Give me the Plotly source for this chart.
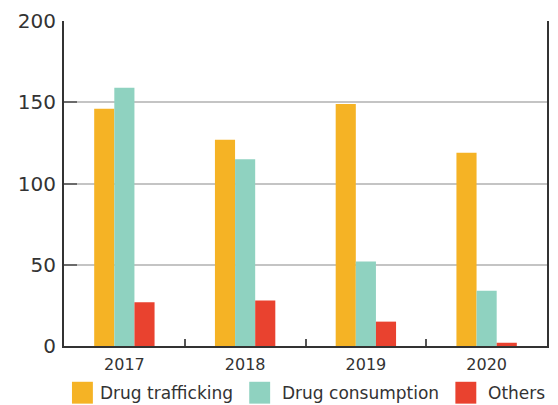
import plotly.graph_objects as go

# Cases by year and category
years = ["2017", "2018", "2019", "2020"]
trafficking = [146, 127, 149, 119]
consumption = [159, 115, 52, 34]
others = [27, 28, 15, 2]

series_names = ["Drug trafficking", "Drug consumption", "Others"]
series_colors = ["#F5B325", "#8FD2C0", "#E9422F"]

W, H = 558, 405
L, R, T, B = 64, 9, 19, 59
PW, PH = W - L - R, H - T - B

FONT = "DejaVu Sans, Arial, sans-serif"

fig = go.Figure()
for name, vals, col in zip(series_names, [trafficking, consumption, others], series_colors):
    fig.add_trace(go.Bar(x=years, y=vals, name=name, marker=dict(color=col, line=dict(width=0)),
                         showlegend=False))


def px_x(px):
    return (px - L) / PW


def px_y(py):
    return (H - B - py) / PH


# Legend drawn as squares plus labels below the plot area
legend_items = [(72, 100), (250, 283), (457, 490)]
shapes = []
annotations = []
for (sx, tx), name, col in zip(legend_items, series_names, series_colors):
    shapes.append(dict(type="rect", xref="paper", yref="paper",
                       x0=px_x(sx), x1=px_x(sx + 21), y0=px_y(404), y1=px_y(382),
                       fillcolor=col, line=dict(width=0)))
    annotations.append(dict(xref="paper", yref="paper", x=px_x(tx - 2), y=px_y(393),
                            text=name, showarrow=False, xanchor="left", yanchor="middle",
                            font=dict(family=FONT, size=17, color="#333333")))

fig.update_layout(
    width=W, height=H,
    margin=dict(l=L, r=R, t=T, b=B),
    paper_bgcolor="white", plot_bgcolor="white",
    barmode="group", bargap=0.5, bargroupgap=0,
    font=dict(family=FONT, color="#333333"),
    shapes=shapes, annotations=annotations,
    xaxis=dict(
        type="category", showgrid=False, showline=True, linecolor="#333333", linewidth=2,
        ticks="inside", tickson="boundaries", ticklen=7, tickwidth=1.5, tickcolor="#555555",
        tickfont=dict(family=FONT, size=16, color="#333333"), ticklabelstandoff=3,
        fixedrange=True,
    ),
    yaxis=dict(
        range=[0, 200], tickvals=[0, 50, 100, 150, 200],
        showgrid=True, gridcolor="#C4C4C4", gridwidth=2,
        showline=True, mirror=True, linecolor="#333333", linewidth=2,
        ticks="inside", ticklen=13, tickwidth=2, tickcolor="#6A6A6A",
        tickfont=dict(family=FONT, size=20, color="#333333"), ticklabelstandoff=2,
        zeroline=False, fixedrange=True,
    ),
)

fig.write_html("out.html")
